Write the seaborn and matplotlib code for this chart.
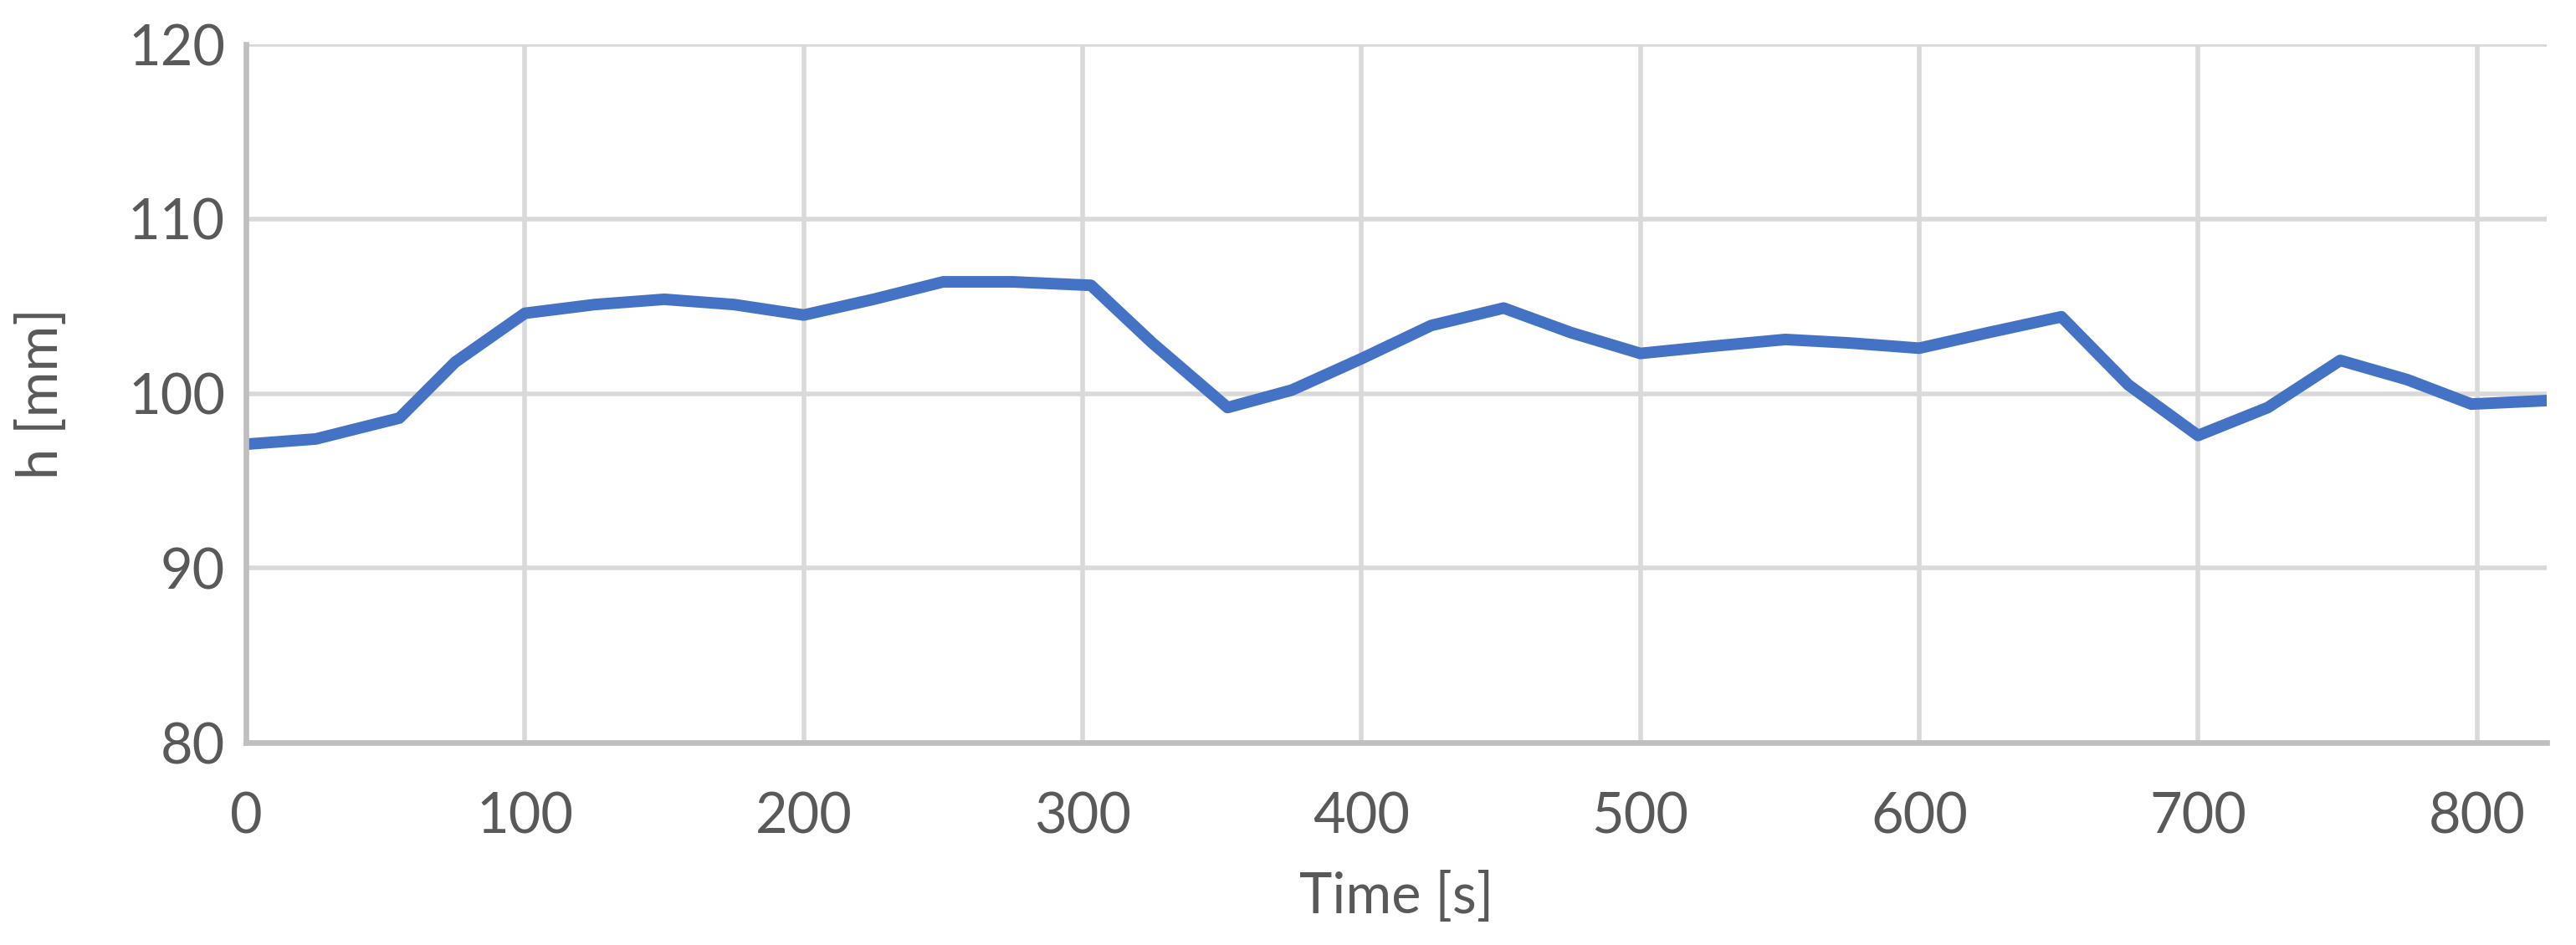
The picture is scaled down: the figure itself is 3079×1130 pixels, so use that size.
import numpy as np
import pandas as pd
import seaborn as sns
import matplotlib.pyplot as plt

# values
time_s = [0, 25, 55, 75, 100, 125, 150, 175, 200, 225, 250, 275, 303, 325,
          352, 375, 400, 425, 451, 475, 500, 525, 552, 575, 600, 625, 651,
          675, 700, 725, 751, 775, 798, 825]
h_mm = [97.1, 97.4, 98.6, 101.8, 104.6, 105.1, 105.4, 105.1, 104.5, 105.4,
        106.4, 106.4, 106.2, 102.9, 99.2, 100.2, 102.0, 103.9, 104.9, 103.5,
        102.3, 102.7, 103.1, 102.9, 102.6, 103.5, 104.4, 100.5, 97.6, 99.2,
        101.9, 100.8, 99.4, 99.6]
x_ticks = [0, 100, 200, 300, 400, 500, 600, 700, 800]
y_ticks = [80, 90, 100, 110, 120]

df = pd.DataFrame({'Time [s]': time_s, 'h [mm]': h_mm})

sns.set_theme(style='white')
plt.rcParams['font.family'] = ['Lato', 'DejaVu Sans']

fig = plt.figure(figsize=(15.395, 5.65), dpi=200)
ax = fig.add_axes([0.0955, 0.214, 0.8931, 0.739])

sns.lineplot(data=df, x='Time [s]', y='h [mm]', ax=ax, color='#4472C4',
             linewidth=5, solid_capstyle='round', solid_joinstyle='round')

ax.set_xlim(0, 825)
ax.set_ylim(80, 120)
ax.set_xticks(x_ticks)
ax.set_yticks(y_ticks)
ax.grid(True, color='#D9D9D9', linewidth=2)
ax.set_axisbelow(True)

for side in ['top', 'right']:
    ax.spines[side].set_visible(False)
for side in ['left', 'bottom']:
    ax.spines[side].set_color('#BFBFBF')
    ax.spines[side].set_linewidth(2.4)

ax.tick_params(axis='both', length=0, labelsize=24, colors='#595959')
ax.tick_params(axis='x', pad=21)
ax.tick_params(axis='y', pad=9)
ax.set_xlabel('Time [s]', fontsize=24, color='#595959', labelpad=12)
ax.set_ylabel('h [mm]', fontsize=24, color='#595959', labelpad=26)

fig.savefig('out.png', dpi=200)
